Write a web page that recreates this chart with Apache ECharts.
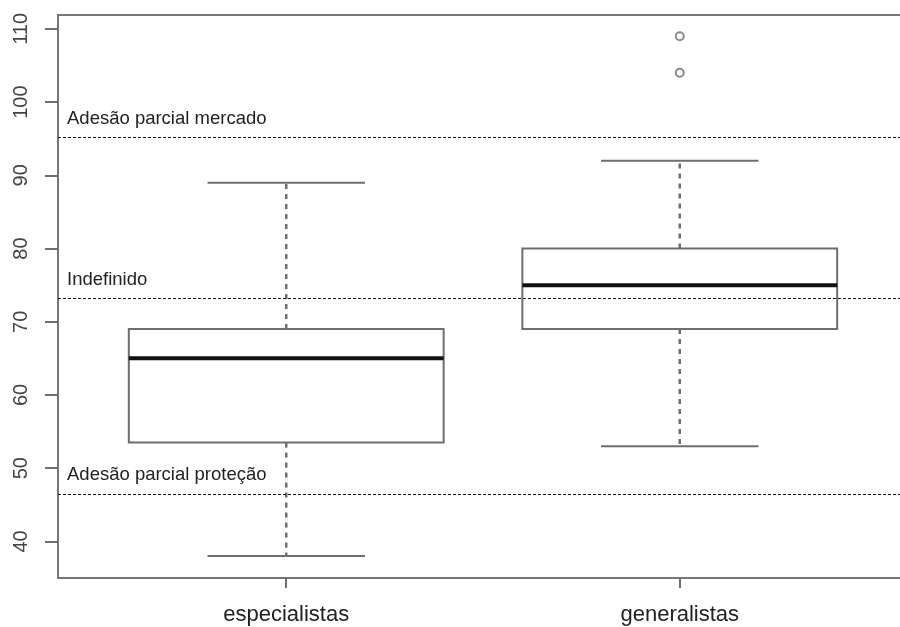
<!DOCTYPE html>
<html>
<head>
<meta charset="utf-8">
<script src="https://cdn.jsdelivr.net/npm/echarts@6/dist/echarts.min.js"></script>
<style>html,body{margin:0;padding:0;background:#fff;}#chart{width:900px;height:627px;}</style>
</head>
<body>
<div id="chart"></div>
<script>
// ---- data ----
const categories = ['especialistas', 'generalistas'];
const whiskerLow = [38, 53];
const q1 = [53.5, 69];
const median = [65, 75];
const q3 = [69, 80];
const whiskerHigh = [89, 92];
const outlierCategory = [2, 2];
const outlierValue = [109, 104];
const refLabels = ['Adesão parcial mercado', 'Indefinido', 'Adesão parcial proteção'];
const refValues = [95.2, 73.2, 46.5];
const yTicks = [40, 50, 60, 70, 80, 90, 100, 110];
const xTicks = [1, 2];

// ---- build ----
const boxData = categories.map((c, i) => [i + 1, whiskerLow[i], q1[i], median[i], q3[i], whiskerHigh[i]]);
const outlierData = outlierValue.map((v, i) => [outlierCategory[i], v]);
const BOX_WEX = 0.8, STAPLE = 0.5;
const GRAY = '#6e6e6e';
const FONT = 'Liberation Sans, Arial, sans-serif';

function renderItem(params, api) {
  const x = api.value(0);
  const pLo = api.coord([x, api.value(1)]);
  const pQ1 = api.coord([x, api.value(2)]);
  const pMed = api.coord([x, api.value(3)]);
  const pQ3 = api.coord([x, api.value(4)]);
  const pHi = api.coord([x, api.value(5)]);
  const boxW = api.size([BOX_WEX, 0])[0];
  const capW = boxW * STAPLE;
  const cx = pMed[0];
  const dashStyle = { stroke: GRAY, lineWidth: 2.5, lineDash: [5, 5], fill: null };
  const solid = { stroke: GRAY, lineWidth: 2, fill: null };
  return {
    type: 'group',
    children: [
      { type: 'line', shape: { x1: cx, y1: pQ1[1], x2: cx, y2: pLo[1] }, style: dashStyle },
      { type: 'line', shape: { x1: cx, y1: pQ3[1], x2: cx, y2: pHi[1] }, style: dashStyle },
      { type: 'line', shape: { x1: cx - capW / 2, y1: pLo[1], x2: cx + capW / 2, y2: pLo[1] }, style: solid },
      { type: 'line', shape: { x1: cx - capW / 2, y1: pHi[1], x2: cx + capW / 2, y2: pHi[1] }, style: solid },
      { type: 'rect', shape: { x: cx - boxW / 2, y: pQ3[1], width: boxW, height: pQ1[1] - pQ3[1] }, style: { stroke: GRAY, lineWidth: 2, fill: '#fff' } },
      { type: 'line', shape: { x1: cx - boxW / 2, y1: pMed[1], x2: cx + boxW / 2, y2: pMed[1] }, style: { stroke: '#111', lineWidth: 4 } }
    ]
  };
}

const chart = echarts.init(document.getElementById('chart'), null, { renderer: 'canvas' });
chart.setOption({
  animation: false,
  backgroundColor: '#fff',
  grid: { left: 58, top: 15, right: -8, bottom: 49, containLabel: false, outerBoundsMode: 'none',
    show: true, borderColor: '#777', borderWidth: 2, backgroundColor: 'transparent' },
  xAxis: {
    type: 'value', min: 0.42, max: 2.58,
    axisLine: { show: false },
    splitLine: { show: false },
    axisTick: { show: true, customValues: xTicks, length: 10, lineStyle: { color: GRAY, width: 2 } },
    axisLabel: { customValues: xTicks, margin: 26, fontSize: 22, color: '#222', fontFamily: FONT,
      formatter: v => categories[Math.round(v) - 1] }
  },
  yAxis: {
    type: 'value', min: 35.0, max: 111.9,
    axisLine: { show: false },
    splitLine: { show: false },
    axisTick: { show: true, customValues: yTicks, length: 13, lineStyle: { color: GRAY, width: 2 } },
    axisLabel: { customValues: yTicks, rotate: 90, margin: 27, fontSize: 20, color: '#444', fontFamily: FONT }
  },
  series: [
    {
      type: 'custom', renderItem: renderItem, data: boxData, z: 2,
      encode: { x: 0, y: [1, 2, 3, 4, 5] }, silent: true
    },
    {
      type: 'scatter', data: outlierData, symbol: 'emptyCircle', symbolSize: 8, z: 3,
      itemStyle: { color: GRAY, borderColor: GRAY, borderWidth: 2 }, silent: true,
      markLine: {
        silent: true, symbol: ['none', 'none'], z: 5,
        lineStyle: { color: '#111', width: 1, type: [3, 2] },
        label: { show: true, position: 'insideStartTop', formatter: '{b}', fontSize: 18.5, color: '#222', fontFamily: FONT, distance: [9, 9] },
        data: refValues.map((v, i) => ({ yAxis: v, name: refLabels[i] }))
      }
    }
  ]
});
</script>
</body>
</html>
